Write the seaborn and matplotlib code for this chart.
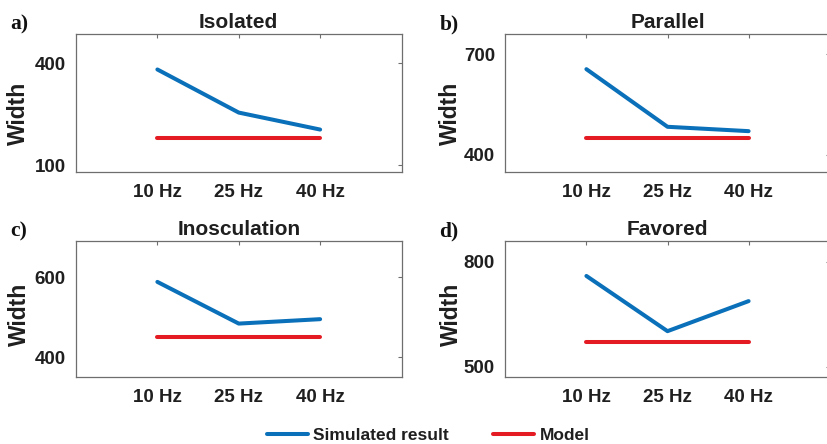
import numpy as np
import pandas as pd
import matplotlib
matplotlib.use("Agg")
import matplotlib.pyplot as plt
import seaborn as sns

# ---- data ----
freqs = ["10 Hz", "25 Hz", "40 Hz"]
titles = ["Isolated", "Parallel", "Inosculation", "Favored"]
letters = ["a)", "b)", "c)", "d)"]
sim_isolated = [382, 255, 205]
sim_parallel = [656, 484, 471]
sim_inosculation = [588, 484, 495]
sim_favored = [760, 602, 688]
model_isolated = [180, 180, 180]
model_parallel = [450, 450, 450]
model_inosculation = [450, 450, 450]
model_favored = [571, 571, 571]
yticks_list = [[100, 400], [400, 700], [400, 600], [500, 800]]
ylims = [(80, 485), (350, 760), (350, 690), (470, 860)]

sims = [sim_isolated, sim_parallel, sim_inosculation, sim_favored]
models = [model_isolated, model_parallel, model_inosculation, model_favored]

sns.set_theme(style="white")
plt.rcParams["font.family"] = ["Liberation Sans", "DejaVu Sans"]
plt.rcParams["font.weight"] = "bold"

W, H = 827, 444
fig = plt.figure(figsize=(W / 100, H / 100), dpi=100)

# axes boxes in pixels: left, top, right, bottom
boxes = [(76, 34.5, 401.5, 172), (505.3, 34.3, 829.7, 171.7),
         (76, 241, 401.5, 377.3), (505.3, 241, 829.7, 377.3)]
ylab_x = [18.8, 450.5, 19, 451]
ylab_y = [113.3, 113.3, 314.2, 314.2]
letter_pos = [(10, 24), (439.5, 24), (10, 231.7), (439, 231.7)]

blue = "#0a70b9"
red = "#e41b23"
spine_c = "#6e6e6e"
text_c = "#1f1f1f"

handles = None
for i in range(4):
    l, t, r, b = boxes[i]
    ax = fig.add_axes([l / W, (H - b) / H, (r - l) / W, (b - t) / H])
    df = pd.DataFrame({
        "Frequency": freqs * 2,
        "Width": sims[i] + models[i],
        "Series": ["Simulated result"] * 3 + ["Model"] * 3,
    })
    sns.lineplot(data=df, x="Frequency", y="Width", hue="Series",
                 palette={"Simulated result": blue, "Model": red},
                 linewidth=2.9, ax=ax, legend=True, sort=False)
    if handles is None:
        handles, labels = ax.get_legend_handles_labels()
    ax.get_legend().remove()
    ax.set_xlim(-1, 3)
    ax.set_ylim(*ylims[i])
    ax.set_yticks(yticks_list[i])
    ax.set_xlabel("")
    ax.set_ylabel("Width", fontsize=16.5, fontweight="bold", color=text_c)
    ax.yaxis.set_label_coords((ylab_x[i] - l) / (r - l), (b - ylab_y[i]) / (b - t))
    ax.yaxis.label.set_verticalalignment("center")
    ax.set_title(titles[i], fontsize=15, fontweight="bold", color=text_c, pad=4.5)
    ax.tick_params(axis="both", direction="in", length=3, width=0.8, color=spine_c,
                   top=True, right=True, labelsize=13.5, labelcolor=text_c)
    ax.tick_params(axis="x", pad=8.5)
    ax.tick_params(axis="y", pad=7.5)
    for lab in ax.get_xticklabels() + ax.get_yticklabels():
        lab.set_fontweight("bold")
    for s in ax.spines.values():
        s.set_visible(True)
        s.set_color(spine_c)
        s.set_linewidth(0.9)
    ax.grid(False)
    lx, ly = letter_pos[i]
    fig.text(lx / W, 1 - ly / H, letters[i], ha="left", va="center",
             fontsize=15.5, fontweight="bold", family=["Liberation Serif", "DejaVu Serif"],
             color="#111111")

order = [labels.index("Simulated result"), labels.index("Model")]
leg = fig.legend([handles[k] for k in order], [labels[k] for k in order],
                 loc="center", bbox_to_anchor=(428 / W, 9 / H), ncol=2,
                 frameon=False, borderpad=0, handlelength=2.4, handletextpad=0.3,
                 columnspacing=2.5, prop={"size": 12.5, "weight": "bold"})
for txt in leg.get_texts():
    txt.set_color(text_c)
for ln in leg.get_lines():
    ln.set_linewidth(2.9)

fig.savefig("out.png", dpi=100)
